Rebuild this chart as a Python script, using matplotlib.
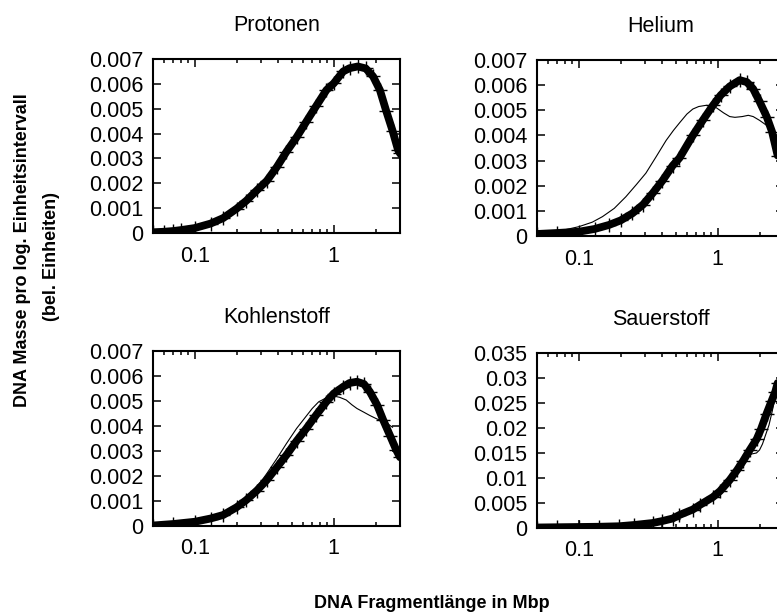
import matplotlib
matplotlib.use("Agg")
import matplotlib.pyplot as plt
from matplotlib.ticker import FixedLocator, NullFormatter, LogLocator

plt.rcParams['font.family'] = ['Liberation Sans', 'DejaVu Sans']

# ---- Protonen ----
prot_x = [0.05, 0.06, 0.07, 0.08, 0.1, 0.13, 0.16, 0.2, 0.235, 0.28, 0.33, 0.39,
          0.457, 0.54, 0.635, 0.75, 0.886, 1.0, 1.17, 1.3, 1.49, 1.7, 1.92, 2.15,
          2.39, 2.65, 2.9, 3.0]
prot_y = [0.03, 0.05, 0.08, 0.12, 0.2, 0.38, 0.6, 0.98, 1.3, 1.72, 2.1, 2.66,
          3.27, 3.85, 4.48, 5.12, 5.75, 6.02, 6.5, 6.63, 6.7, 6.62, 6.3, 5.75,
          4.9, 4.12, 3.35, 3.2]

# ---- Helium ----
he_x = [0.05, 0.07, 0.1, 0.13, 0.165, 0.2, 0.243, 0.29, 0.34, 0.4, 0.474, 0.53,
        0.662, 0.78, 0.925, 1.05, 1.22, 1.44, 1.62, 1.8, 2.0, 2.25, 2.46, 2.7]
he_y = [0.08, 0.12, 0.17, 0.28, 0.44, 0.62, 0.9, 1.25, 1.7, 2.2, 2.8, 3.1,
        4.0, 4.6, 5.2, 5.6, 5.95, 6.2, 6.12, 5.85, 5.35, 4.75, 4.15, 3.2]
he_ref_x = [0.05, 0.07, 0.1, 0.125, 0.148, 0.18, 0.218, 0.26, 0.304, 0.36, 0.425,
            0.48, 0.531, 0.6, 0.662, 0.73, 0.83, 0.978, 1.1, 1.22, 1.33, 1.5,
            1.66, 1.8, 2.0, 2.25, 2.46, 2.6]
he_ref_y = [0.05, 0.18, 0.37, 0.55, 0.77, 1.1, 1.56, 2.05, 2.5, 3.15, 3.8,
            4.2, 4.5, 4.85, 5.05, 5.15, 5.2, 5.1, 4.9, 4.75, 4.72, 4.75,
            4.8, 4.75, 4.6, 4.4, 4.14, 3.9]

# ---- Kohlenstoff ----
c_x = [0.05, 0.07, 0.1, 0.13, 0.16, 0.2, 0.235, 0.28, 0.33, 0.39, 0.457, 0.54,
       0.635, 0.75, 0.886, 1.0, 1.17, 1.3, 1.47, 1.65, 1.82, 2.05, 2.27, 2.55,
       2.82, 3.0]
c_y = [0.02, 0.08, 0.17, 0.3, 0.44, 0.75, 1.04, 1.42, 1.84, 2.35, 2.84, 3.4,
       3.9, 4.45, 4.97, 5.3, 5.57, 5.72, 5.77, 5.68, 5.37, 4.85, 4.24, 3.6,
       3.04, 2.75]
c_ref_x = [0.05, 0.1, 0.16, 0.2, 0.235, 0.28, 0.33, 0.39, 0.457, 0.54, 0.635,
           0.7, 0.78, 0.88, 0.99, 1.1, 1.23, 1.35, 1.47, 1.65, 1.82, 2.05,
           2.27, 2.5, 2.65]
c_ref_y = [0.03, 0.17, 0.44, 0.75, 1.1, 1.55, 2.1, 2.7, 3.3, 3.9, 4.4,
           4.7, 4.97, 5.12, 5.2, 5.15, 5.04, 4.85, 4.7, 4.55, 4.42, 4.28,
           4.18, 4.05, 3.95]

# ---- Sauerstoff ----
o_x = [0.05, 0.07, 0.1, 0.14, 0.195, 0.25, 0.34, 0.4, 0.474, 0.53, 0.662, 0.743,
       0.925, 1.04, 1.22, 1.38, 1.53, 1.7, 1.91, 2.05, 2.25, 2.45, 2.6, 2.7]
o_y = [0.1, 0.15, 0.2, 0.25, 0.35, 0.6, 1.0, 1.4, 1.9, 2.6, 3.7, 4.6,
       6.2, 7.4, 9.6, 11.6, 13.5, 15.6, 17.8, 19.8, 22.9, 25.5, 27.3, 29.0]
o_ref_x = [0.05, 0.1, 0.2, 0.34, 0.474, 0.662, 0.925, 1.22, 1.53, 1.75, 1.9,
           2.0, 2.1, 2.21, 2.34, 2.47, 2.61, 2.7]
o_ref_y = [0.1, 0.2, 0.35, 1.0, 1.9, 3.7, 6.2, 9.6, 13.5, 14.8, 15.0,
           15.6, 16.8, 18.6, 20.6, 23.4, 26.9, 28.6]

titles = ["Protonen", "Helium", "Kohlenstoff", "Sauerstoff"]
ytick_small = [0, 0.001, 0.002, 0.003, 0.004, 0.005, 0.006, 0.007]
ytick_small_labels = ["0", "0.001", "0.002", "0.003", "0.004", "0.005", "0.006", "0.007"]
ytick_large = [0, 0.005, 0.01, 0.015, 0.02, 0.025, 0.03, 0.035]
ytick_large_labels = ["0", "0.005", "0.01", "0.015", "0.02", "0.025", "0.03", "0.035"]
xtick = [0.1, 1]
xtick_labels = ["0.1", "1"]

W, H = 777, 616
fig = plt.figure(figsize=(W / 100, H / 100), dpi=100)

def box(left, top, right, bottom):
    return [left / W, 1 - bottom / H, (right - left) / W, (bottom - top) / H]

axes = [
    fig.add_axes(box(153, 59, 400, 233)),
    fig.add_axes(box(537, 60, 784, 236)),
    fig.add_axes(box(153, 351, 400, 526)),
    fig.add_axes(box(537, 353, 784, 528)),
]

panels = [
    (prot_x, prot_y, None, None, ytick_small, ytick_small_labels),
    (he_x, he_y, he_ref_x, he_ref_y, ytick_small, ytick_small_labels),
    (c_x, c_y, c_ref_x, c_ref_y, ytick_small, ytick_small_labels),
    (o_x, o_y, o_ref_x, o_ref_y, ytick_large, ytick_large_labels),
]

for ax, title, (mx, my, rx, ry, yt, ytl) in zip(axes, titles, panels):
    ax.plot(mx, [v * 1e-3 for v in my], color="black", lw=5.6,
            solid_capstyle="round", solid_joinstyle="round", zorder=3)
    ax.plot(mx, [v * 1e-3 for v in my], color="black", lw=0, ls="none",
            marker="+", ms=9.5, mew=1.0, zorder=3)
    if rx is not None:
        ax.plot(rx, [v * 1e-3 for v in ry], color="black", lw=0.8, zorder=4)
    ax.set_xscale("log")
    ax.set_xlim(0.05, 3.0)
    ax.set_ylim(yt[0], yt[-1])
    ax.yaxis.set_major_locator(FixedLocator(yt))
    ax.set_yticklabels(ytl)
    ax.xaxis.set_major_locator(FixedLocator(xtick))
    ax.set_xticklabels(xtick_labels)
    ax.xaxis.set_minor_locator(LogLocator(base=10, subs=range(2, 10)))
    ax.xaxis.set_minor_formatter(NullFormatter())
    ax.tick_params(which="both", direction="in", top=True, right=True,
                   labelsize=15.5, width=1.1, color="black")
    ax.tick_params(which="major", length=6)
    ax.tick_params(which="minor", length=3.2)
    ax.tick_params(axis="y", pad=7)
    ax.tick_params(axis="x", pad=9)
    for sp in ax.spines.values():
        sp.set_linewidth(1.5)
    ax.set_title(title, fontsize=15.5, pad=20)

fig.text(23 / W, 1 - 250 / H, "DNA Masse pro log. Einheitsintervall",
         rotation=90, ha="center", va="center", fontsize=13, fontweight="bold")
fig.text(52 / W, 1 - 257 / H, "(bel. Einheiten)",
         rotation=90, ha="center", va="center", fontsize=13, fontweight="bold")
fig.text(432 / W, 1 - 603 / H, "DNA Fragmentlänge in Mbp",
         ha="center", va="center", fontsize=13, fontweight="bold")

fig.savefig("out.png", dpi=100)
